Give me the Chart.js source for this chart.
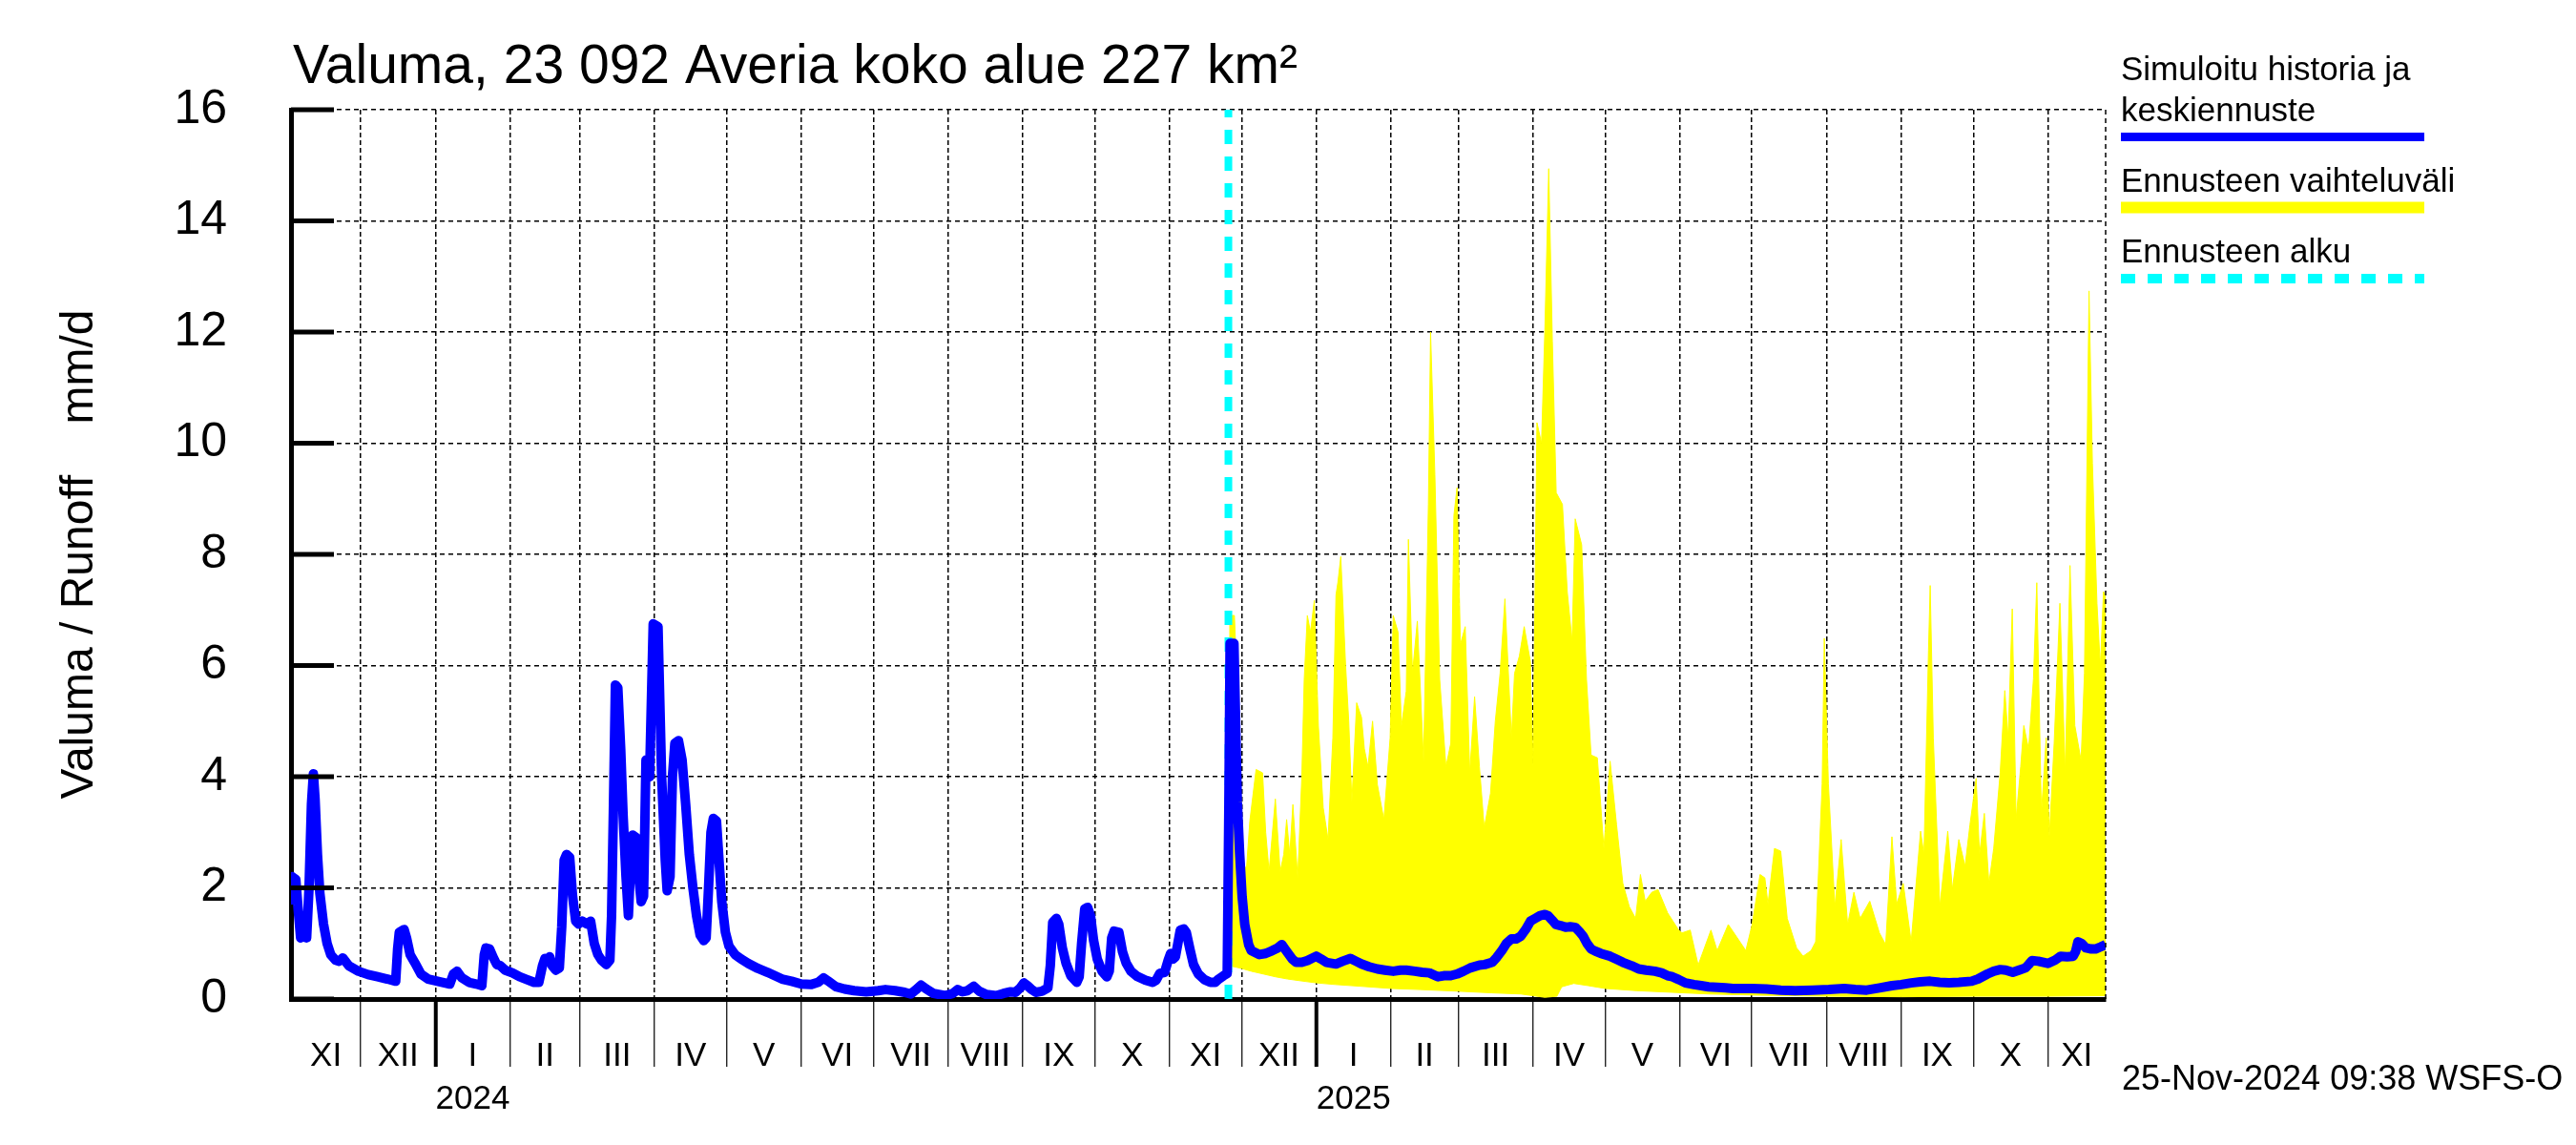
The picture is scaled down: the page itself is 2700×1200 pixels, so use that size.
<!DOCTYPE html>
<html><head><meta charset="utf-8">
<script src="https://cdn.jsdelivr.net/npm/chart.js@4/dist/chart.umd.min.js"></script>
<style>html,body{margin:0;padding:0;background:#fff;}#wrap{width:2700px;height:1200px;}</style>
</head><body><div id="wrap"><canvas id="c" width="2700" height="1200"></canvas></div>
<script>
// ---- texts ----
const titleText = 'Valuma, 23 092 Averia koko alue 227 km²';
const yAxisTitle = 'Valuma / Runoff    mm/d';
const stampText = '25-Nov-2024 09:38 WSFS-O';
const legendMean = ['Simuloitu historia ja', 'keskiennuste'];
const legendBand = 'Ennusteen vaihteluväli';
const legendStart = 'Ennusteen alku';

// ---- time axis (day 0 = 1 Nov 2023) ----
const xStartDay = 1;
const xEndDay = 755;
const monthStartDays = [30,61,92,121,152,182,213,243,274,305,335,366,396,427,458,486,517,547,578,608,639,670,700,731];
const januaryDays = [61,427];
const monthNames = ['XI','XII','I','II','III','IV','V','VI','VII','VIII','IX','X','XI','XII','I','II','III','IV','V','VI','VII','VIII','IX','X','XI'];
const yearLabels = {2:'2024', 14:'2025'};
const forecastStartDay = 390.5;
const yTicks = [0,2,4,6,8,10,12,14,16];

// ---- simulated history + mean forecast ----
const runoffDays = [
 1,1.5,3,4,5,6,7.5,8.5,9.5,10.3,
 11,12,13,14.5,16,17.5,19.5,21,22.5,25,
 29,33,37,41,44.5,45.3,46,48,49,50.5,
 52.5,55,58,61,64,67,68.5,70,72,75,
 78,80.3,81.3,82,83.5,85,86.5,88,90,93,
 96,99,102,104,105.5,106.5,107.5,108.5,109.5,111,
 112.5,113.5,114.5,115.5,116.8,118,119.3,120.5,122,124,
 125.5,127,128.5,130,132,133.5,134.2,135,135.8,136.8,
 138,139,140.2,141.2,142.2,143,144.5,145.5,146.5,147.5,
 148.5,150,151.5,153.5,155,156.5,157.3,158.5,159.5,160.5,
 162,163.5,165,166.5,168,169.5,171,172.5,173.5,174.5,
 175.5,176.5,177.8,179,180,181.5,183,185.5,188,191,
 195,199,202,205,209,213,217,220,222.3,224,
 227.5,231,235,240,245,248,252,256,258.5,260.5,
 262.8,265,268,272.8,276,278,280,282,284.7,287,
 290,294,297,300,302,304,305.5,307,308.5,310.5,
 313,315.5,316.5,317.5,319,320,321.5,323,325,327.5,
 328.5,329.5,330.8,332,333.2,334.5,336,338,340,341,
 342,343,345,346.5,348,350,352.5,356,359,360.5,
 362,364,365.5,366.5,367.5,368.5,369.5,370.5,372,373,
 374.5,376,378,380.5,383,385,386.5,388.5,390,390.7,
 391.2,392.8,393.5,394.2,395.2,396.2,397.3,398.9,400,403.4,
 406,408.7,411,412.7,414,415.3,417,418.7,421,423.3,
 427,429,431.2,435.2,438,441.2,443.5,445.8,449,452.4,
 455.5,459,462,464.4,468,471,474,477.6,480,482.9,
 485.5,488.2,491,494.8,497,500.1,502,504.1,506,508.1,
 510,512,514,516,518,520,522,523.3,525,526.6,
 528.5,530.6,532.5,534.6,536.2,537.9,539.5,541.2,543,545.2,
 549.1,551.5,554.4,558,561,564,567.7,570.5,573,575,
 577.6,580.4,584,587,590,593.6,597,600.2,604,608,
 614,620,626,633.2,640,646.4,651,655.7,661,666.2,
 670,674.2,678,682.1,686,690,694,699.3,702,705.9,
 708.5,711.2,713.5,716.4,719,721.7,723,724.4,727,731,
 734,736.3,739,741.5,742.5,743.5,745,746.8,749,750.8,
 753,755
];
const runoffValues = [
 1.7,2.2,2.15,1.6,1.1,1.2,1.1,2.0,3.5,4.05,
 3.6,2.6,1.9,1.35,1.0,0.8,0.7,0.68,0.74,0.6,
 0.5,0.44,0.4,0.36,0.32,0.9,1.2,1.25,1.1,0.8,
 0.65,0.45,0.36,0.33,0.3,0.27,0.45,0.5,0.38,0.3,
 0.27,0.24,0.8,0.92,0.9,0.75,0.62,0.6,0.52,0.47,
 0.4,0.35,0.3,0.3,0.6,0.73,0.7,0.76,0.6,0.52,
 0.56,1.3,2.5,2.6,2.55,1.85,1.4,1.35,1.4,1.35,
 1.4,1.0,0.8,0.7,0.62,0.7,1.5,3.5,5.65,5.6,
 4.5,3.3,2.2,1.5,2.5,2.95,2.9,2.2,1.75,1.85,
 4.3,4.0,6.75,6.7,4.0,2.5,1.95,2.2,4.0,4.6,
 4.65,4.3,3.5,2.6,2.0,1.5,1.15,1.05,1.1,2.0,
 3.0,3.25,3.2,2.4,1.75,1.2,0.95,0.8,0.72,0.64,
 0.55,0.48,0.42,0.36,0.32,0.27,0.26,0.3,0.38,0.33,
 0.22,0.18,0.15,0.13,0.15,0.17,0.15,0.12,0.09,0.16,
 0.25,0.18,0.1,0.06,0.1,0.17,0.13,0.15,0.23,0.14,
 0.08,0.06,0.1,0.13,0.12,0.2,0.29,0.24,0.18,0.12,
 0.14,0.2,0.6,1.38,1.45,1.35,0.92,0.65,0.42,0.3,
 0.4,1.0,1.62,1.65,1.5,1.05,0.72,0.5,0.4,0.5,
 1.1,1.22,1.2,0.85,0.65,0.5,0.41,0.34,0.3,0.34,
 0.46,0.48,0.7,0.82,0.72,0.76,1.0,1.24,1.26,1.2,
 0.9,0.62,0.45,0.35,0.3,0.3,0.36,0.42,0.46,3.5,
 6.4,6.4,5.0,3.55,2.6,1.84,1.34,0.98,0.87,0.8,
 0.82,0.87,0.92,0.98,0.9,0.82,0.72,0.66,0.66,0.69,
 0.77,0.72,0.66,0.63,0.68,0.73,0.68,0.63,0.58,0.54,
 0.52,0.5,0.52,0.52,0.5,0.48,0.47,0.4,0.42,0.42,
 0.45,0.5,0.56,0.61,0.62,0.66,0.75,0.87,1.0,1.08,
 1.08,1.13,1.25,1.4,1.45,1.5,1.52,1.5,1.42,1.34,
 1.32,1.29,1.3,1.29,1.22,1.13,1.0,0.9,0.86,0.82,
 0.77,0.72,0.66,0.6,0.54,0.52,0.5,0.47,0.42,0.4,
 0.35,0.29,0.26,0.24,0.22,0.21,0.2,0.19,0.19,0.19,
 0.18,0.16,0.15,0.16,0.17,0.19,0.17,0.16,0.2,0.24,
 0.26,0.29,0.31,0.32,0.3,0.29,0.3,0.32,0.36,0.45,
 0.5,0.53,0.52,0.48,0.52,0.56,0.62,0.69,0.68,0.64,
 0.7,0.77,0.76,0.77,0.85,1.03,1.0,0.92,0.9,0.9,
 0.94,0.98
];

// ---- forecast range (upper / lower edge) ----
const bandUpperDays = [
 390.8,391.2,393,394.5,395.8,396.8,398.1,399.4,402,404.7,406,
 407.4,410,412,413.5,414.7,416,417.3,419.3,421,422,
 423.3,424.6,426.2,427.9,429.9,431.9,433.9,435.2,436,437.2,
 439.2,440.5,441.8,443.8,445.8,447,448.5,450.4,452.4,455.1,
 457.7,459,461,462.4,464.4,465.3,467,469,471.6,473.6,
 474.5,476.3,478.3,480.9,482.9,484.2,485.5,486.9,488.9,490.8,
 492.8,494.8,496.8,499.4,501.4,503.4,505.4,508.1,509.4,511.4,
 513.4,516,517.1,518.7,520.6,522,523.6,525.1,526.7,529.3,
 531.3,533.3,534.6,537.3,539.3,541.2,543.8,546.5,549.1,551.8,
 554.4,557.1,559.7,561.7,563.7,566.4,569,573,577.6,579,
 582.4,585.7,591,593.6,598.2,601.5,605.5,608.1,611.4,613.4,
 614.7,617.4,620,622.7,626.6,629.3,632.6,634.5,637.2,638.1,
 639.8,642.5,645.1,647.8,650.4,653,657,661,663.6,666.2,
 668.2,670.9,674.2,678.1,679.5,681.4,682.1,683.4,686.1,689.4,
 691.3,694,696.6,698.6,701.2,702.6,704.6,706.5,708.5,711.2,
 713.1,714.5,716.2,717.8,719.7,721,723,725,726.4,728.3,
 730.3,731.6,733.6,736,738.2,740.2,742.2,744.8,746.2,748.1,
 749.5,751.4,752.8,754.1,755
];
const bandUpperValues = [
 6.9,6.9,6.9,5.3,3.6,2.3,2.4,3.2,4.13,4.07,3.0,
 2.29,3.6,2.29,2.6,3.23,2.6,3.5,2.18,4.0,5.75,
 6.9,6.6,7.17,4.91,3.44,2.87,4.7,7.27,7.5,7.96,
 6.0,5.0,3.55,5.33,5.07,4.5,4.18,5.0,3.86,3.23,
 4.7,6.9,6.6,4.91,5.54,8.27,5.86,6.8,4.28,8.9,
 12.0,9.43,5.75,4.18,4.6,8.7,9.2,6.38,6.7,4.07,
 5.44,4.18,3.08,3.7,5.0,5.86,7.2,4.7,5.86,6.17,
 6.7,6.07,4.18,10.37,10.0,12.05,14.94,11.84,9.11,8.9,
 7.33,6.44,8.64,8.17,5.75,4.39,4.34,2.71,4.28,3.13,
 2.08,1.66,1.45,2.24,1.76,1.92,1.97,1.55,1.24,1.19,
 1.24,0.61,1.24,0.87,1.34,1.13,0.87,1.34,2.24,2.18,
 1.71,2.71,2.66,1.45,0.92,0.77,0.87,1.03,3.87,6.49,
 3.87,1.66,2.87,1.34,1.92,1.45,1.76,1.19,0.98,2.92,
 1.71,2.08,1.03,3.02,2.6,6.28,7.44,4.7,1.66,3.02,
 1.97,2.87,2.39,3.13,3.97,2.6,3.34,2.08,2.71,4.08,
 5.55,4.7,7.02,3.24,4.18,4.92,4.5,5.76,7.49,3.34,
 4.7,2.92,4.6,7.12,4.08,7.8,4.92,4.29,5.86,12.74,
 9.64,7.12,5.97,7.33,7.23
];
const bandLowerDays = [390.8,396,400,405,410,415,420,427,435,445,458,470,486,500,512,517,522,527,529,534,540,547,560,575,590,610,640,670,700,730,755];
const bandLowerValues = [0.6,0.55,0.5,0.45,0.4,0.36,0.33,0.29,0.26,0.23,0.19,0.17,0.14,0.11,0.09,0.06,0.03,0.05,0.22,0.28,0.24,0.19,0.15,0.12,0.09,0.07,0.05,0.04,0.05,0.05,0.06];

// ---- build ticks / labels ----
const FONT = '"Liberation Sans", Arial, Helvetica, sans-serif';
const edges = [xStartDay, ...monthStartDays, xEndDay];
const labelMap = new Map();
const boundarySet = new Set(monthStartDays);
const janSet = new Set(januaryDays);
const tickValues = [...monthStartDays];
for (let i = 0; i < edges.length - 1; i++) {
  const mid = (edges[i] + edges[i + 1]) / 2 + 0.001;
  tickValues.push(mid);
  labelMap.set(mid, yearLabels[i] ? [monthNames[i], yearLabels[i]] : monthNames[i]);
}
tickValues.sort((a, b) => a - b);

const pts = (xs, ys) => xs.map((d, i) => ({x: d, y: ys[i]}));

const decor = {
  id: 'decor',
  afterDraw(chart) {
    const {ctx, chartArea: a, scales: {y}} = chart;
    ctx.save();
    // inward y ticks
    ctx.strokeStyle = '#000';
    ctx.lineWidth = 5;
    yTicks.forEach(v => {
      const py = y.getPixelForValue(v);
      ctx.beginPath(); ctx.moveTo(a.left, py); ctx.lineTo(a.left + 45, py); ctx.stroke();
    });
    // right dashed edge
    ctx.lineWidth = 1.5;
    ctx.setLineDash([5, 4]);
    ctx.beginPath(); ctx.moveTo(a.right, a.top); ctx.lineTo(a.right, a.bottom); ctx.stroke();
    ctx.setLineDash([]);
    // title
    ctx.fillStyle = '#000';
    ctx.textAlign = 'left';
    ctx.textBaseline = 'alphabetic';
    ctx.font = '57px ' + FONT;
    ctx.fillText(titleText, 307, 87);
    // y axis title
    ctx.save();
    ctx.translate(84, (a.top + a.bottom) / 2);
    ctx.rotate(-Math.PI / 2);
    ctx.textAlign = 'center';
    ctx.textBaseline = 'middle';
    ctx.font = '48px ' + FONT;
    ctx.fillText(yAxisTitle, 0, 0);
    ctx.restore();
    // legend
    const lx = 2223, lx2 = 2541;
    ctx.font = '35px ' + FONT;
    ctx.fillText(legendMean[0], lx, 84);
    ctx.fillText(legendMean[1], lx, 127);
    ctx.strokeStyle = '#0000ff'; ctx.lineWidth = 9;
    ctx.beginPath(); ctx.moveTo(lx, 143.5); ctx.lineTo(lx2, 143.5); ctx.stroke();
    ctx.fillText(legendBand, lx, 201);
    ctx.strokeStyle = '#ffff00'; ctx.lineWidth = 12;
    ctx.beginPath(); ctx.moveTo(lx, 217.5); ctx.lineTo(lx2, 217.5); ctx.stroke();
    ctx.fillText(legendStart, lx, 275);
    ctx.strokeStyle = '#00ffff'; ctx.lineWidth = 10; ctx.setLineDash([15, 13]);
    ctx.beginPath(); ctx.moveTo(lx, 292); ctx.lineTo(lx2, 292); ctx.stroke();
    ctx.setLineDash([]);
    // timestamp
    ctx.font = '36px ' + FONT;
    ctx.fillText(stampText, 2224, 1142);
    ctx.restore();
  }
};

new Chart(document.getElementById('c'), {
  type: 'line',
  data: {
    datasets: [
      {label: 'Simuloitu historia ja keskiennuste', data: pts(runoffDays, runoffValues),
       borderColor: '#0000ff', borderWidth: 10, pointRadius: 0, fill: false, tension: 0,
       borderJoinStyle: 'round', borderCapStyle: 'butt', order: 0},
      {label: 'Ennusteen alku', data: [{x: forecastStartDay, y: 0}, {x: forecastStartDay, y: 16}],
       borderColor: '#00ffff', borderWidth: 8, borderDash: [15, 13], pointRadius: 0, fill: false, order: 1},
      {label: 'Ennusteen vaihteluväli', data: pts(bandUpperDays, bandUpperValues),
       borderColor: '#ffff00', backgroundColor: '#ffff00', borderWidth: 1, pointRadius: 0, fill: '+1', tension: 0, order: 2},
      {label: 'lower', data: pts(bandLowerDays, bandLowerValues),
       borderColor: '#ffff00', borderWidth: 1, pointRadius: 0, fill: false, tension: 0, order: 3}
    ]
  },
  options: {
    responsive: false, animation: false, devicePixelRatio: 1,
    layout: {padding: {top: 115, right: 493, left: 0, bottom: 0}},
    plugins: {legend: {display: false}, tooltip: {enabled: false}, title: {display: false}},
    scales: {
      x: {
        type: 'linear', min: xStartDay, max: xEndDay,
        afterFit(s) { s.height = 153; },
        afterBuildTicks(s) { s.ticks = tickValues.map(v => ({value: v})); },
        ticks: {
          autoSkip: false, maxRotation: 0, minRotation: 0, padding: -33, color: '#000',
          font: {family: FONT, size: 35, lineHeight: 1.29},
          callback: (v) => labelMap.has(v) ? labelMap.get(v) : ''
        },
        grid: {
          color: c => (c.tick && boundarySet.has(c.tick.value)) ? '#000' : 'rgba(0,0,0,0)',
          lineWidth: 1.5,
          drawTicks: true, tickLength: 71,
          tickColor: c => (c.tick && boundarySet.has(c.tick.value)) ? '#000' : 'rgba(0,0,0,0)',
          tickWidth: c => (c.tick && janSet.has(c.tick.value)) ? 4 : 1.2
        },
        border: {display: true, color: '#000', width: 5, dash: [5, 3]}
      },
      y: {
        min: 0, max: 16,
        afterFit(s) { s.width = 305; },
        afterBuildTicks(s) { s.ticks = yTicks.map(v => ({value: v})); },
        ticks: {padding: 67, color: '#000', font: {family: FONT, size: 50}},
        grid: {color: '#000', lineWidth: 1.5, drawTicks: false},
        border: {display: true, color: '#000', width: 5, dash: [5, 4]}
      }
    }
  },
  plugins: [decor]
});
</script>
</body></html>
